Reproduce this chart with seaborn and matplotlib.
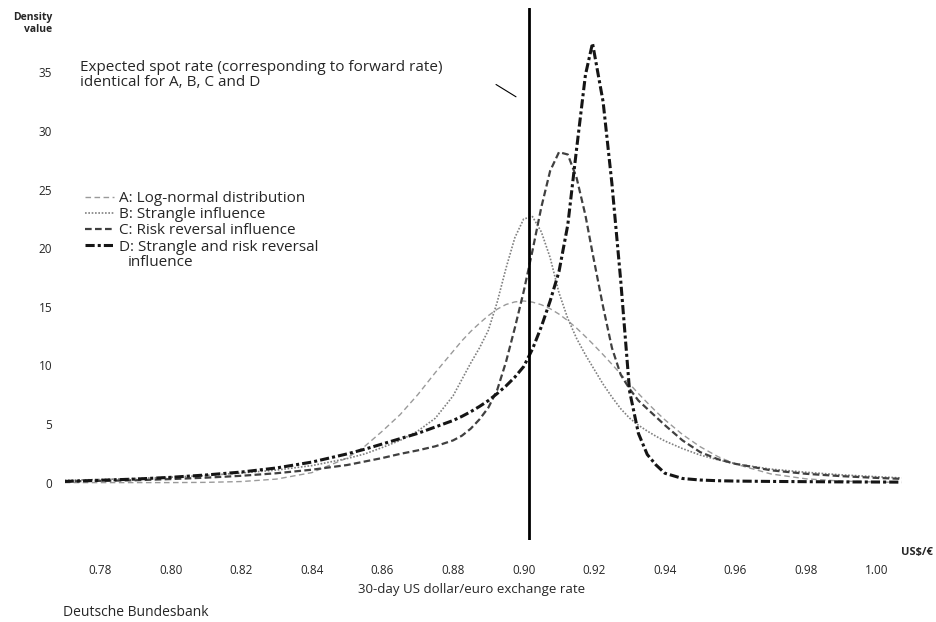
import matplotlib
matplotlib.use("Agg")
import matplotlib.pyplot as plt
import pandas as pd
import seaborn as sns

# 30-day US$/euro rate grid, shared by the four densities
rate = [0.770, 0.780, 0.790, 0.800, 0.810, 0.820, 0.830, 0.840,
        0.850, 0.855, 0.860, 0.865, 0.870, 0.875, 0.880, 0.8825,
        0.885, 0.8875, 0.890, 0.8925, 0.895, 0.8975, 0.900, 0.9025,
        0.905, 0.9075, 0.910, 0.9125, 0.915, 0.9175, 0.9195, 0.9225,
        0.925, 0.9275, 0.930, 0.9325, 0.935, 0.9375, 0.940, 0.945,
        0.950, 0.955, 0.960, 0.970, 0.980, 0.990, 1.000, 1.007]

# A: log-normal
dens_a = [0.0, 0.0, 0.0, 0.0, 0.02, 0.09, 0.30, 0.85,
          2.10, 3.10, 4.40, 5.80, 7.50, 9.40, 11.20, 12.10,
          12.90, 13.60, 14.25, 14.80, 15.20, 15.42, 15.50, 15.40,
          15.18, 14.84, 14.38, 13.82, 13.18, 12.46, 11.86, 10.92,
          10.10, 9.26, 8.42, 7.60, 6.82, 6.06, 5.36, 4.10,
          3.06, 2.22, 1.58, 0.74, 0.32, 0.13, 0.05, 0.02]

# B: strangle influence
dens_b = [0.20, 0.26, 0.35, 0.46, 0.61, 0.82, 1.07, 1.45,
          2.05, 2.45, 3.00, 3.60, 4.40, 5.50, 7.40, 8.80,
          10.20, 11.50, 13.00, 15.40, 18.30, 20.90, 22.50, 22.70,
          21.40, 19.20, 16.20, 14.00, 12.30, 10.90, 9.90, 8.40,
          7.30, 6.30, 5.50, 4.90, 4.40, 3.95, 3.55, 2.90,
          2.35, 1.95, 1.60, 1.15, 0.88, 0.66, 0.50, 0.40]

# C: risk reversal influence
dens_c = [0.10, 0.15, 0.20, 0.30, 0.42, 0.58, 0.80, 1.10,
          1.50, 1.80, 2.10, 2.45, 2.75, 3.10, 3.60, 4.00,
          4.60, 5.40, 6.40, 7.90, 10.30, 13.20, 16.30, 19.80,
          23.50, 26.60, 28.20, 28.00, 26.00, 22.80, 19.60, 15.00,
          11.50, 9.20, 8.00, 7.00, 6.30, 5.60, 4.90, 3.60,
          2.60, 2.00, 1.60, 1.05, 0.75, 0.55, 0.40, 0.32]

# D: strangle and risk reversal influence
dens_d = [0.10, 0.20, 0.30, 0.45, 0.65, 0.90, 1.25, 1.75,
          2.45, 2.85, 3.30, 3.75, 4.20, 4.75, 5.30, 5.65,
          6.05, 6.50, 7.00, 7.60, 8.25, 9.00, 9.90, 11.40,
          13.30, 15.50, 18.00, 22.00, 28.50, 34.80, 37.50, 32.50,
          25.50, 17.20, 7.80, 4.20, 2.40, 1.50, 0.80, 0.35,
          0.22, 0.16, 0.13, 0.10, 0.08, 0.06, 0.05, 0.04]

curve_labels = ["A: Log-normal distribution", "B: Strangle influence",
                "C: Risk reversal influence", "D: Strangle and risk reversal"]
x_ticks = [0.78, 0.80, 0.82, 0.84, 0.86, 0.88, 0.90, 0.92, 0.94, 0.96, 0.98, 1.00]
y_ticks = [0, 5, 10, 15, 20, 25, 30, 35]
forward_rate = 0.9015

df = pd.DataFrame({
    "rate": rate * 4,
    "density": dens_a + dens_b + dens_c + dens_d,
    "curve": [lab for lab in curve_labels for _ in rate],
})

sns.set_theme(style="white")
plt.rcParams["font.family"] = ["Open Sans", "DejaVu Sans"]

palette = dict(zip(curve_labels, ["#9a9a9a", "#808080", "#404040", "#151515"]))
dashes = dict(zip(curve_labels, [(4, 2.5), (1, 1), (3, 1.5), (3, 1, 1, 1)]))
widths = dict(zip(curve_labels, [1.0, 1.2, 1.6, 2.2]))

fig = plt.figure(figsize=(9.36, 6.22), dpi=100)
ax = fig.add_axes([0.0691, 0.1318, 0.9053, 0.8553])

sns.lineplot(data=df, x="rate", y="density", hue="curve", style="curve", size="curve",
             palette=palette, dashes=dashes, sizes=widths, hue_order=curve_labels,
             style_order=curve_labels, size_order=curve_labels, sort=False,
             estimator=None, legend=False, ax=ax)

handles = list(ax.lines[:4])
ax.axvline(forward_rate, color="black", lw=2)

ax.set_xlim(0.77, 1.01)
ax.set_ylim(-4.9, 40.5)
ax.set_xticks(x_ticks)
ax.set_xticklabels([f"{t:.2f}" for t in x_ticks])
ax.set_yticks(y_ticks)
ax.set_yticklabels([str(t) for t in y_ticks])
ax.tick_params(axis="x", length=0, pad=17, labelsize=8.5)
ax.tick_params(axis="y", length=0, pad=9, labelsize=8.5)
ax.set_xlabel("")
ax.set_ylabel("")
sns.despine(ax=ax, left=True, bottom=True)

leg = ax.legend(handles, curve_labels, loc="upper left", bbox_to_anchor=(85 / 936, 1 - 191 / 622),
                bbox_transform=fig.transFigure, frameon=False, fontsize=11, borderpad=0,
                borderaxespad=0, handlelength=1.9, handletextpad=0.35, labelspacing=0.08)
fig.text(128 / 936, 1 - 262 / 622, "influence", fontsize=11, va="center", ha="left")

ax.annotate("Expected spot rate (corresponding to forward rate)\nidentical for A, B, C and D",
            xy=(0.7743, 36.1), fontsize=11, va="top", ha="left", linespacing=1.0)
ax.annotate("", xy=(0.8985, 32.8), xytext=(0.8915, 34.1),
            arrowprops=dict(arrowstyle="-", lw=0.8, color="black"))

fig.text(52 / 936, 1 - 12 / 622, "Density\nvalue", fontsize=7.5, ha="right", va="top",
         linespacing=1.1, fontweight="bold")
fig.text(917 / 936, 1 - 553 / 622, "US$/€", fontsize=8, ha="center", va="center",
         fontweight="bold")
fig.text(472 / 936, 1 - 590 / 622, "30-day US dollar/euro exchange rate", fontsize=9.5,
         ha="center", va="center")
fig.text(63 / 936, 1 - 613 / 622, "Deutsche Bundesbank", fontsize=10, ha="left", va="center")

fig.savefig("out.png", dpi=100)
